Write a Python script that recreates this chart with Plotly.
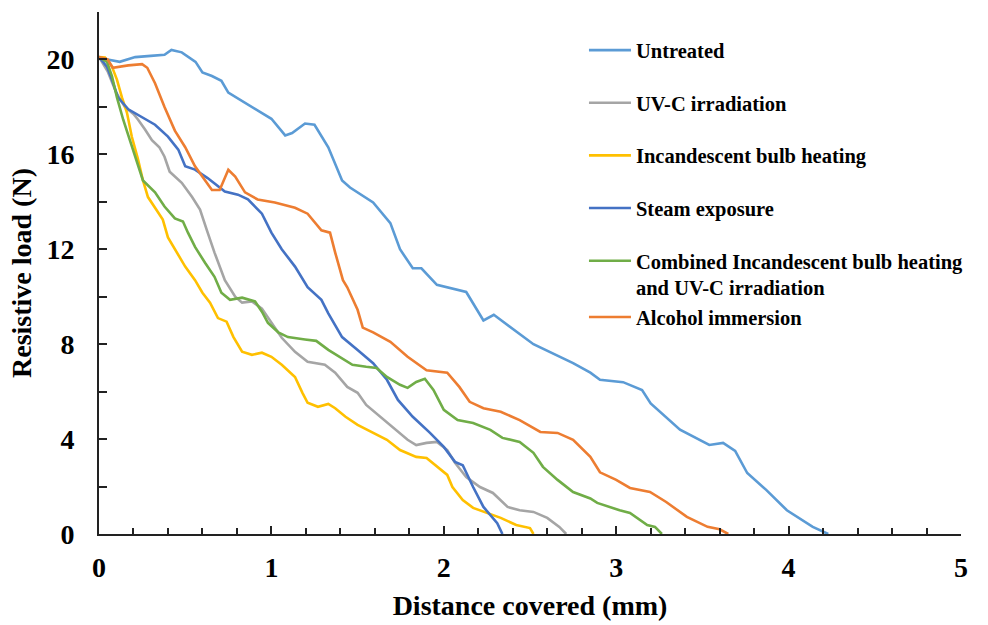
import plotly.graph_objects as go

# ---- data ----
untreated_x = [0, 0.05, 0.12, 0.21, 0.3, 0.38, 0.42, 0.48, 0.56, 0.60, 0.655, 0.71, 0.75, 0.887, 1.0, 1.08, 1.12, 1.195, 1.25, 1.33, 1.41, 1.456, 1.59, 1.69, 1.746, 1.82, 1.87, 1.96, 2.02, 2.13, 2.23, 2.29, 2.52, 2.75, 2.85, 2.906, 3.04, 3.15, 3.2, 3.37, 3.54, 3.62, 3.69, 3.76, 3.87, 3.99, 4.14, 4.23]
untreated_y = [20.1, 20.0, 19.9, 20.1, 20.15, 20.2, 20.4, 20.3, 19.9, 19.45, 19.3, 19.1, 18.6, 18.0, 17.5, 16.8, 16.9, 17.3, 17.25, 16.3, 14.9, 14.6, 13.97, 13.1, 12.0, 11.2, 11.2, 10.5, 10.4, 10.2, 9.0, 9.24, 8.0, 7.2, 6.8, 6.5, 6.4, 6.07, 5.5, 4.4, 3.75, 3.84, 3.5, 2.57, 1.86, 1.0, 0.3, 0.0]

uvc_x = [0, 0.05, 0.1, 0.15, 0.2, 0.226, 0.267, 0.307, 0.35, 0.38, 0.41, 0.48, 0.54, 0.586, 0.626, 0.67, 0.73, 0.79, 0.83, 0.887, 0.945, 1.0, 1.06, 1.137, 1.21, 1.31, 1.37, 1.44, 1.50, 1.55, 1.63, 1.705, 1.79, 1.84, 1.90, 1.96, 2.02, 2.065, 2.13, 2.21, 2.285, 2.37, 2.44, 2.52, 2.6, 2.67, 2.71]
uvc_y = [20.1, 19.5, 18.6, 18.0, 17.7, 17.47, 17.05, 16.6, 16.3, 15.9, 15.27, 14.8, 14.2, 13.67, 12.8, 11.86, 10.7, 10.0, 9.75, 9.8, 9.5, 8.9, 8.27, 7.68, 7.26, 7.13, 6.8, 6.2, 5.95, 5.44, 4.94, 4.5, 3.97, 3.75, 3.84, 3.88, 3.54, 3.0, 2.4, 1.98, 1.73, 1.14, 1.0, 0.93, 0.68, 0.3, 0.0]

bulb_x = [0, 0.035, 0.075, 0.104, 0.133, 0.162, 0.19, 0.226, 0.255, 0.284, 0.325, 0.37, 0.40, 0.44, 0.50, 0.557, 0.60, 0.644, 0.69, 0.74, 0.78, 0.83, 0.887, 0.945, 1.0, 1.06, 1.137, 1.18, 1.21, 1.27, 1.33, 1.37, 1.43, 1.50, 1.59, 1.67, 1.746, 1.84, 1.90, 1.96, 2.02, 2.05, 2.11, 2.17, 2.25, 2.33, 2.42, 2.5, 2.52]
bulb_y = [20.1, 20.08, 19.7, 19.15, 18.4, 17.76, 16.75, 15.8, 14.9, 14.2, 13.75, 13.25, 12.5, 12.0, 11.27, 10.7, 10.17, 9.75, 9.1, 8.95, 8.3, 7.68, 7.55, 7.64, 7.47, 7.13, 6.62, 5.95, 5.53, 5.36, 5.48, 5.3, 4.94, 4.6, 4.26, 3.97, 3.54, 3.25, 3.2, 2.83, 2.49, 1.98, 1.43, 1.1, 0.89, 0.68, 0.38, 0.25, 0.0]

steam_x = [0, 0.046, 0.075, 0.11, 0.17, 0.25, 0.325, 0.40, 0.46, 0.5, 0.557, 0.63, 0.73, 0.806, 0.864, 0.945, 1.0, 1.06, 1.137, 1.21, 1.29, 1.33, 1.41, 1.50, 1.59, 1.67, 1.734, 1.82, 1.92, 2.0, 2.065, 2.11, 2.17, 2.23, 2.31, 2.34]
steam_y = [20.1, 19.7, 19.15, 18.4, 17.9, 17.55, 17.25, 16.75, 16.2, 15.5, 15.36, 15.0, 14.43, 14.3, 14.1, 13.5, 12.7, 12.0, 11.27, 10.4, 9.87, 9.3, 8.3, 7.76, 7.2, 6.5, 5.65, 4.94, 4.26, 3.67, 3.04, 2.9, 1.98, 1.14, 0.46, 0.0]

combined_x = [0, 0.046, 0.075, 0.104, 0.14, 0.18, 0.22, 0.255, 0.325, 0.38, 0.44, 0.487, 0.516, 0.557, 0.615, 0.67, 0.71, 0.76, 0.83, 0.905, 0.945, 0.98, 1.04, 1.096, 1.195, 1.26, 1.33, 1.43, 1.47, 1.55, 1.61, 1.67, 1.746, 1.79, 1.84, 1.89, 1.94, 2.0, 2.08, 2.17, 2.27, 2.34, 2.44, 2.52, 2.575, 2.66, 2.75, 2.85, 2.89, 3.02, 3.08, 3.18, 3.225, 3.265]
combined_y = [20.1, 19.9, 19.3, 18.4, 17.47, 16.6, 15.65, 14.9, 14.4, 13.8, 13.3, 13.17, 12.7, 12.1, 11.43, 10.84, 10.17, 9.87, 9.96, 9.8, 9.37, 8.9, 8.5, 8.3, 8.2, 8.14, 7.76, 7.3, 7.13, 7.05, 7.0, 6.62, 6.29, 6.16, 6.41, 6.54, 6.07, 5.23, 4.8, 4.68, 4.39, 4.05, 3.88, 3.42, 2.83, 2.28, 1.77, 1.5, 1.31, 1.0, 0.89, 0.38, 0.3, 0.0]

alcohol_x = [0, 0.05, 0.08, 0.17, 0.25, 0.28, 0.325, 0.38, 0.44, 0.5, 0.557, 0.615, 0.655, 0.70, 0.75, 0.79, 0.847, 0.92, 1.02, 1.137, 1.21, 1.29, 1.34, 1.37, 1.415, 1.44, 1.50, 1.53, 1.59, 1.69, 1.79, 1.90, 2.02, 2.09, 2.15, 2.23, 2.33, 2.44, 2.56, 2.66, 2.75, 2.85, 2.906, 3.0, 3.08, 3.196, 3.29, 3.41, 3.53, 3.6, 3.65]
alcohol_y = [20.1, 20.0, 19.65, 19.75, 19.8, 19.65, 19.0, 18.0, 17.0, 16.3, 15.5, 14.9, 14.5, 14.5, 15.35, 15.06, 14.4, 14.1, 13.97, 13.75, 13.5, 12.8, 12.7, 11.86, 10.7, 10.4, 9.45, 8.7, 8.5, 8.1, 7.47, 6.9, 6.8, 6.2, 5.57, 5.3, 5.15, 4.8, 4.3, 4.26, 3.97, 3.25, 2.6, 2.28, 1.94, 1.77, 1.35, 0.72, 0.3, 0.2, 0.0]

series_names = ["Untreated", "UV-C irradiation", "Incandescent bulb heating", "Steam exposure",
                "Combined Incandescent bulb heating<br>and UV-C irradiation", "Alcohol immersion"]
series_colors = ["#5B9BD5", "#A5A5A5", "#FFC000", "#4472C4", "#70AD47", "#ED7D31"]
series_groups = ["g1", "g2", "g3", "g4", "g5", "g5"]
series_data = [(untreated_x, untreated_y), (uvc_x, uvc_y), (bulb_x, bulb_y),
               (steam_x, steam_y), (combined_x, combined_y), (alcohol_x, alcohol_y)]

x_ticks = [0, 1, 2, 3, 4, 5]
y_ticks = [0, 4, 8, 12, 16, 20]

FONT = "Liberation Serif, Times New Roman, serif"

fig = go.Figure()
for (xs, ys), name, col, grp in zip(series_data, series_names, series_colors, series_groups):
    fig.add_trace(go.Scatter(x=xs, y=ys, mode="lines", name=name, legendgroup=grp,
                             line=dict(color=col, width=2.6)))

fig.update_layout(
    width=988, height=625,
    margin=dict(l=99, r=27, t=12, b=91),
    paper_bgcolor="white", plot_bgcolor="white",
    font=dict(family=FONT, color="black", size=21, weight="bold"),
    showlegend=True,
    legend=dict(x=0.5626, y=0.965, xanchor="left", yanchor="top",
                font=dict(family=FONT, size=20.5, color="black", weight="bold"),
                tracegroupgap=23, valign="top", bgcolor="rgba(0,0,0,0)",
                borderwidth=0, itemwidth=42),
)
fig.update_xaxes(
    range=[0, 5], tickvals=x_ticks, ticks="inside", ticklen=8, tickwidth=1.5, tickcolor="#222",
    minor=dict(dtick=0.2, ticks="inside", ticklen=6, tickwidth=1.5, tickcolor="#222"),
    showline=True, linecolor="#222", linewidth=1.8, showgrid=False, zeroline=False,
    tickfont=dict(family=FONT, size=28, color="black", weight="bold"),
    ticklabelstandoff=7, automargin=False,
    title=dict(text="Distance covered (mm)", standoff=14,
               font=dict(family=FONT, size=28, color="black", weight="bold")),
)
fig.update_yaxes(
    range=[0, 22], tickvals=y_ticks, ticks="inside", ticklen=8, tickwidth=1.5, tickcolor="#222",
    minor=dict(dtick=2, ticks="inside", ticklen=8, tickwidth=1.5, tickcolor="#222"),
    showline=True, linecolor="#222", linewidth=1.8, showgrid=False, zeroline=False,
    tickfont=dict(family=FONT, size=28, color="black", weight="bold"),
    ticklabelstandoff=17, automargin=False,
    title=dict(text="Resistive load (N)", standoff=7,
               font=dict(family=FONT, size=28, color="black", weight="bold")),
)

fig.write_html("out.html", config={"displayModeBar": False},
               post_script="document.body.style.margin='0px';")
